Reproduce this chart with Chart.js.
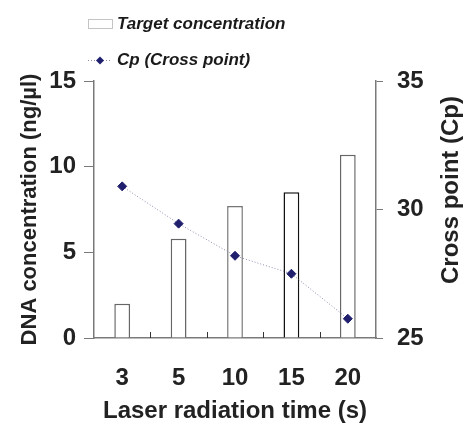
<!DOCTYPE html>
<html>
<head>
<meta charset="utf-8">
<script src="https://cdn.jsdelivr.net/npm/chart.js@4"></script>
<style>
  html, body { margin: 0; padding: 0; background: #fff; }
  #wrap { width: 465px; height: 426px; }
</style>
</head>
<body>
<div id="wrap"><canvas id="cpChart" width="465" height="426"></canvas></div>
<script>
const times = ["3", "5", "10", "15", "20"];
const targetConc = [2.0, 5.8, 7.7, 8.5, 10.7];
const crossPoint = [30.9, 29.45, 28.2, 27.5, 25.75];
const leftTicks = [0, 5, 10, 15];
const rightTicks = [25, 30, 35];

const FONT = "'Liberation Sans', Arial, sans-serif";
const AXIS = "#7a7a7a";
const INK = "#222";

// inward ticks on the x axis, at category boundaries
const innerTicks = {
    id: "innerTicks",
    afterDraw(chart) {
        const x = chart.scales.x;
        const ctx = chart.ctx;
        const step = x.getPixelForValue(1) - x.getPixelForValue(0);
        ctx.save();
        ctx.strokeStyle = "#333";
        ctx.lineWidth = 1;
        for (let i = 0; i < times.length - 1; i++) {
            const px = Math.round(x.getPixelForValue(i) + step / 2) + 0.5;
            ctx.beginPath();
            ctx.moveTo(px, x.top);
            ctx.lineTo(px, x.top - 6);
            ctx.stroke();
        }
        ctx.restore();
    }
};

// right axis title reads bottom-to-top, like the left one
const rightTitle = {
    id: "rightTitle",
    afterDraw(chart) {
        const ctx = chart.ctx;
        ctx.save();
        ctx.translate(451, 190);
        ctx.rotate(-Math.PI / 2);
        ctx.font = "bold 24px " + FONT;
        ctx.fillStyle = INK;
        ctx.textAlign = "center";
        ctx.textBaseline = "middle";
        ctx.fillText("Cross point (Cp)", 0, 0);
        ctx.restore();
    }
};

// legend in the top-left corner, stacked
const stackedLegend = {
    id: "stackedLegend",
    afterDraw(chart) {
        const ctx = chart.ctx;
        const ds = chart.data.datasets;
        const bar = ds.find(d => d.type === "bar");
        const line = ds.find(d => d.type === "line");
        ctx.save();
        ctx.font = "italic bold 17px " + FONT;
        ctx.textBaseline = "middle";

        // bar item
        ctx.fillStyle = "#fff";
        ctx.fillRect(88.5, 19.5, 24, 9);
        ctx.strokeStyle = "#888";
        ctx.lineWidth = 1;
        ctx.setLineDash([1, 1]);
        ctx.strokeRect(88.5, 19.5, 24, 9);
        ctx.setLineDash([]);
        ctx.fillStyle = "#1a1a1a";
        ctx.fillText(bar.label, 117, 24);

        // line item
        ctx.strokeStyle = "#8c8cb0";
        ctx.setLineDash([1, 2]);
        ctx.beginPath();
        ctx.moveTo(88, 60.5);
        ctx.lineTo(112, 60.5);
        ctx.stroke();
        ctx.setLineDash([]);
        ctx.fillStyle = "#1f1f6e";
        ctx.beginPath();
        ctx.moveTo(100, 56.5);
        ctx.lineTo(104, 60.5);
        ctx.lineTo(100, 64.5);
        ctx.lineTo(96, 60.5);
        ctx.closePath();
        ctx.fill();
        ctx.fillStyle = "#1a1a1a";
        ctx.fillText(line.label, 117, 60);
        ctx.restore();
    }
};

new Chart(document.getElementById("cpChart"), {
    data: {
        labels: times,
        datasets: [
            {
                type: "line",
                label: "Cp (Cross point)",
                data: crossPoint,
                yAxisID: "y2",
                borderColor: "#8c8cb0",
                borderWidth: 1,
                borderDash: [1, 2],
                pointStyle: "rectRot",
                pointRadius: 4.5,
                pointBackgroundColor: "#1f1f6e",
                pointBorderColor: "#1f1f6e",
                tension: 0,
                order: 0
            },
            {
                type: "bar",
                label: "Target concentration",
                data: targetConc,
                yAxisID: "y",
                backgroundColor: "#fff",
                borderColor: ["#666", "#666", "#777", "#111", "#666"],
                borderWidth: 1.5,
                barPercentage: 0.28,
                categoryPercentage: 1,
                order: 1
            }
        ]
    },
    options: {
        responsive: false,
        animation: false,
        layout: { padding: { top: 81, left: 0, right: 0, bottom: 0 } },
        plugins: { legend: { display: false }, tooltip: { enabled: false } },
        scales: {
            x: {
                offset: true,
                grid: { display: false, drawTicks: false },
                border: { display: true, color: AXIS, width: 1.5 },
                ticks: { color: INK, font: { family: FONT, size: 24, weight: "bold" }, padding: 26 },
                title: {
                    display: true,
                    text: "Laser radiation time (s)",
                    color: INK,
                    font: { family: FONT, size: 24, weight: "bold" },
                    padding: { top: 4, bottom: 0 }
                },
                afterFit(s) { s.height = 88; }
            },
            y: {
                position: "left",
                min: 0,
                max: 15,
                afterBuildTicks(s) { s.ticks = leftTicks.map(v => ({ value: v })); },
                grid: { drawOnChartArea: false, tickLength: 10, color: AXIS },
                border: { display: true, color: AXIS, width: 1.5 },
                ticks: { color: INK, font: { family: FONT, size: 24, weight: "bold" }, padding: 8 },
                title: {
                    display: true,
                    text: "DNA concentration (ng/µl)",
                    color: INK,
                    font: { family: FONT, size: 22, weight: "bold" },
                    padding: { top: 17, bottom: 0 }
                },
                afterFit(s) { s.width = 94; }
            },
            y2: {
                position: "right",
                min: 25,
                max: 35,
                afterBuildTicks(s) { s.ticks = rightTicks.map(v => ({ value: v })); },
                grid: { drawOnChartArea: false, tickLength: 7, color: AXIS },
                border: { display: true, color: AXIS, width: 1.5 },
                ticks: { color: INK, font: { family: FONT, size: 24, weight: "bold" }, padding: 14 },
                title: { display: false },
                afterFit(s) { s.width = 89; }
            }
        }
    },
    plugins: [innerTicks, rightTitle, stackedLegend]
});
</script>
</body>
</html>
